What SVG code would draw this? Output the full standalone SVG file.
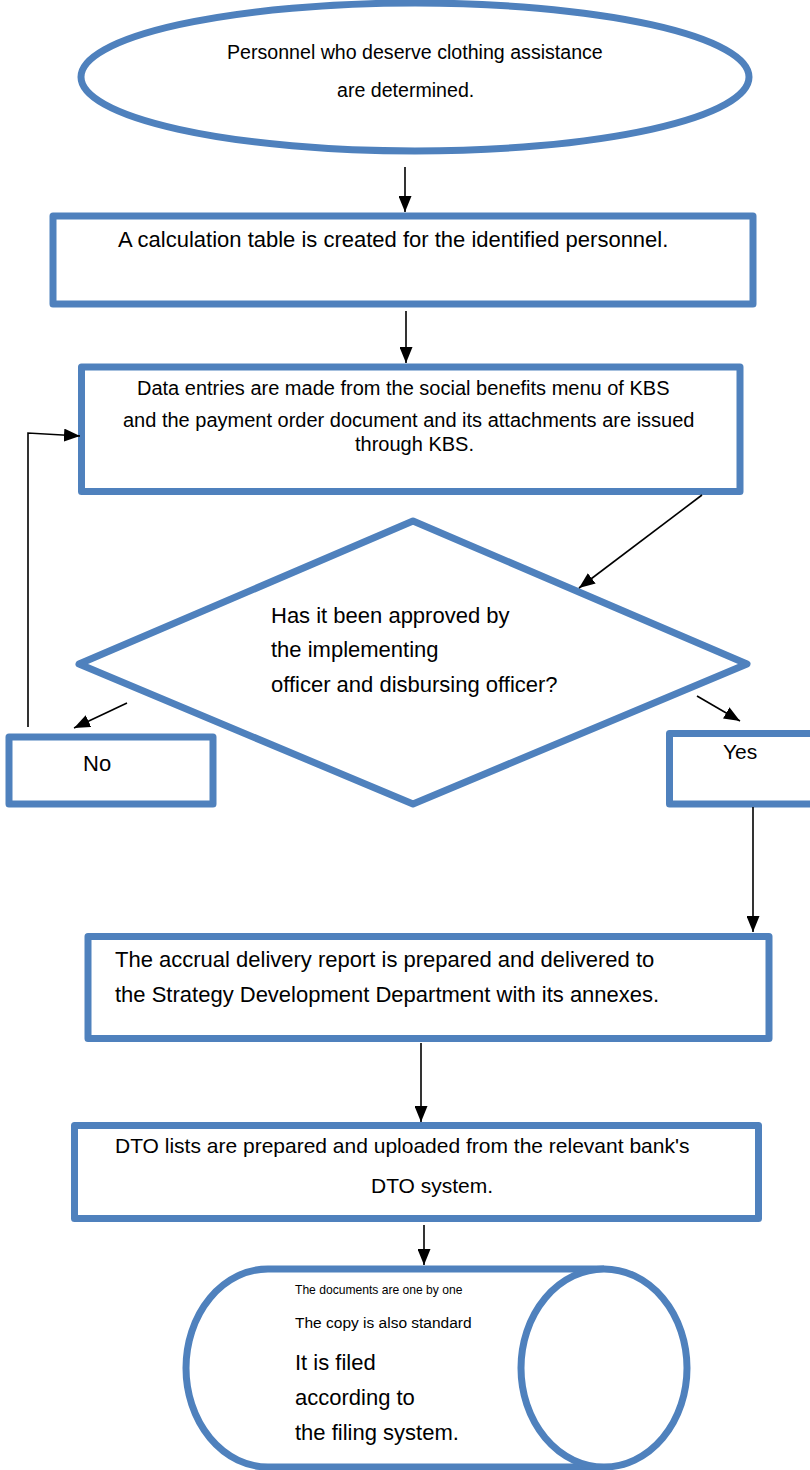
<svg xmlns="http://www.w3.org/2000/svg" width="810" height="1470" viewBox="0 0 810 1470">
<style>
.shape{fill:#ffffff;stroke:#4F81BD;stroke-width:7;stroke-linejoin:round}
.t{font-family:"Liberation Sans",Arial,sans-serif;fill:#000000}
.conn{fill:none;stroke:#000000;stroke-width:1.6}
</style>
<defs>
<marker id="ah" markerUnits="userSpaceOnUse" markerWidth="16" markerHeight="13" refX="16" refY="6.5" orient="auto">
<path d="M0,0 L16,6.5 L0,13 z" fill="#000000"/>
</marker>
</defs>
<rect width="810" height="1470" fill="#ffffff"/>

<g id="start">
<ellipse class="shape" cx="415" cy="77" rx="334" ry="74"/>
<text class="t" x="227" y="59" font-size="19.6">Personnel who deserve clothing assistance</text>
<text class="t" x="337" y="97" font-size="19.6">are determined.</text>
</g>

<g id="calc">
<rect class="shape" x="53" y="216" width="700" height="88" stroke-width="6"/>
<text class="t" x="118" y="247" font-size="22">A calculation table is created for the identified personnel.</text>
</g>

<g id="entry">
<rect class="shape" x="81.5" y="367" width="658.5" height="124.5"/>
<text class="t" x="137" y="395" font-size="20">Data entries are made from the social benefits menu of KBS</text>
<text class="t" x="123" y="427" font-size="20">and the payment order document and its attachments are issued</text>
<text class="t" x="355" y="451" font-size="20">through KBS.</text>
</g>

<g id="decision">
<polygon class="shape" points="413,521 747,664 413,804 79,664"/>
<text class="t" x="271" y="623" font-size="22">Has it been approved by</text>
<text class="t" x="271" y="657" font-size="22">the implementing</text>
<text class="t" x="271" y="692" font-size="22">officer and disbursing officer?</text>
</g>

<g id="no">
<rect class="shape" x="9" y="737" width="204" height="67"/>
<text class="t" x="83" y="771" font-size="22">No</text>
</g>

<g id="yes">
<rect class="shape" x="669.5" y="733.5" width="160" height="70.5"/>
<text class="t" x="723" y="759" font-size="21">Yes</text>
</g>

<g id="report">
<rect class="shape" x="88" y="936.5" width="681" height="102"/>
<text class="t" x="115" y="967" font-size="22">The accrual delivery report is prepared and delivered to</text>
<text class="t" x="115" y="1002" font-size="22">the Strategy Development Department with its annexes.</text>
</g>

<g id="dto">
<rect class="shape" x="74.5" y="1125.5" width="684" height="93"/>
<text class="t" x="115" y="1153" font-size="21">DTO lists are prepared and uploaded from the relevant bank's</text>
<text class="t" x="371" y="1193" font-size="21">DTO system.</text>
</g>

<g id="archive">
<path class="shape" d="M604,1269 H268 A82,99 0 0 0 268,1467 H604"/>
<ellipse class="shape" cx="604" cy="1368" rx="83" ry="99" fill="none"/>
<text class="t" x="295" y="1294" font-size="12.1">The documents are one by one</text>
<text class="t" x="295" y="1328" font-size="15.5">The copy is also standard</text>
<text class="t" x="295" y="1370" font-size="22">It is filed</text>
<text class="t" x="295" y="1405" font-size="22">according to</text>
<text class="t" x="295" y="1440" font-size="22">the filing system.</text>
</g>

<g id="connectors">
<line class="conn" x1="405" y1="167" x2="405" y2="212" marker-end="url(#ah)"/>
<line class="conn" x1="406" y1="311" x2="406" y2="363" marker-end="url(#ah)"/>
<line class="conn" x1="702" y1="495" x2="579" y2="588" marker-end="url(#ah)"/>
<line class="conn" x1="127" y1="703" x2="74" y2="728" marker-end="url(#ah)"/>
<line class="conn" x1="697" y1="696" x2="740" y2="721" marker-end="url(#ah)"/>
<polyline class="conn" points="28,727 28,433 80,436" marker-end="url(#ah)"/>
<line class="conn" x1="753" y1="807" x2="753" y2="932" marker-end="url(#ah)"/>
<line class="conn" x1="421" y1="1043" x2="421" y2="1122" marker-end="url(#ah)"/>
<line class="conn" x1="424" y1="1225" x2="424" y2="1265" marker-end="url(#ah)"/>
</g>
</svg>
